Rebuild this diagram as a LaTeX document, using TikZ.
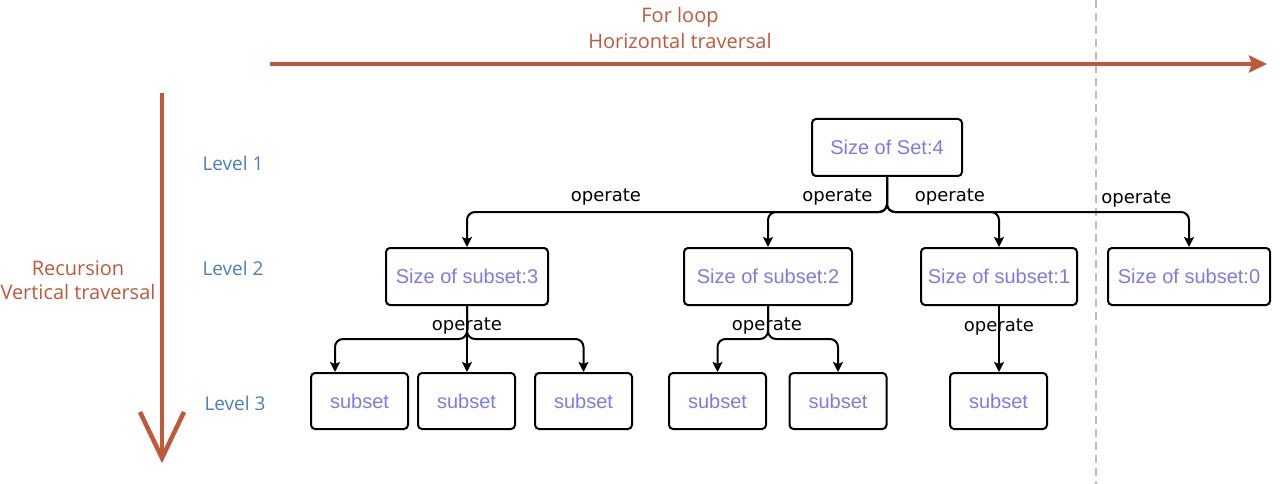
\documentclass[tikz,border=0pt]{standalone}
\usepackage{fontspec}
\setmainfont{Liberation Sans}
\newfontfamily\osans{Open Sans}
\newfontfamily\dvs{DejaVu Sans}
\usetikzlibrary{arrows.meta}
\definecolor{brick}{HTML}{C0583A}
\definecolor{lvlblue}{HTML}{4A7EC0}
\definecolor{boxtxt}{HTML}{7B7BE8}
\definecolor{dashgray}{HTML}{BDBDBD}
\tikzset{
  box/.style={draw, line width=2pt, rounded corners=4pt, minimum height=57pt,
    inner sep=0pt, text=boxtxt, font=\fontsize{20}{24}\selectfont},
  leaf/.style={box, minimum width=97pt, minimum height=56pt},
  conn/.style={draw, line width=2pt, rounded corners=8pt,
    -{Stealth[length=10pt,width=10pt,inset=2pt]}},
  oplabel/.style={font=\dvs\fontsize{18}{22}\selectfont, inner sep=0pt},
  lvl/.style={font=\osans\fontsize{19}{23}\selectfont, text=lvlblue, inner sep=0pt},
  title/.style={font=\osans\fontsize{20}{24}\selectfont, text=brick, inner sep=0pt}
}
\begin{document}
\begin{tikzpicture}[x=1pt,y=-1pt]
\useasboundingbox (0,0) rectangle (1280,484);

% dashed separator
\coordinate (dtop) at (1096,0);
\coordinate (dbot) at (1096,484);
\draw[dashgray, line width=2pt, dash pattern=on 8pt off 5pt] (dtop) -- (dbot);

% horizontal traversal arrow
\node[title] (t1) at (680,17) {For loop};
\node[title] (t2) at (680,41) {Horizontal traversal};
\coordinate (hs) at (270,64);
\coordinate (he) at (1267,64);
\draw[brick, line width=4pt, -{Stealth[length=18pt,width=17pt,inset=3pt]}] (hs) -- (he);

% vertical traversal arrow
\node[title] (r1) at (78,268) {Recursion};
\node[title] (r2) at (78,292) {Vertical traversal};
\coordinate (vs) at (162,93);
\coordinate (ve) at (162,458);
\coordinate (va) at (140,412);
\coordinate (vb) at (184,412);
\draw[brick, line width=4.5pt] (vs) -- (ve);
\draw[brick, line width=4.5pt, line join=miter] (va) -- (ve) -- (vb);

% level labels
\node[lvl] (lv1) at (233,163) {Level 1};
\node[lvl] (lv2) at (233,268) {Level 2};
\node[lvl] (lv3) at (235,403) {Level 3};

% boxes
\node[box, minimum width=150pt] (top) at (887,147.5) {Size of Set:4};
\node[box, minimum width=162pt] (a) at (467,276.5) {Size of subset:3};
\node[box, minimum width=168pt] (b) at (768,276.5) {Size of subset:2};
\node[box, minimum width=156pt] (c) at (999,276.5) {Size of subset:1};
\node[box, minimum width=162pt] (d) at (1189,276.5) {Size of subset:0};

\node[leaf] (a1) at (359.5,401) {subset};
\node[leaf] (a2) at (466.5,401) {subset};
\node[leaf] (a3) at (583.5,401) {subset};
\node[leaf] (b1) at (717.5,401) {subset};
\node[leaf] (b2) at (838,401) {subset};
\node[leaf] (c1) at (998.5,401) {subset};

% connectors level 1 -> 2
\coordinate (j0) at (887,212);
\draw[conn] (top.south) -- (j0) -| (a.north);
\draw[conn] (top.south) -- (j0) -| (b.north);
\draw[conn] (top.south) -- (j0) -| (c.north);
\draw[conn] (top.south) -- (j0) -| (d.north);

% connectors level 2 -> 3
\coordinate (ja) at (467,339);
\draw[conn] (a.south) -- (ja) -| ([xshift=-24.5pt]a1.north);
\draw[conn] (a.south) -- (a.south |- a2.north);
\draw[conn] (a.south) -- (ja) -| (a3.north);
\coordinate (jb) at (768,339);
\draw[conn] (b.south) -- (jb) -| (b1.north);
\draw[conn] (b.south) -- (jb) -| (b2.north);
\draw[conn] (c.south) -- (c.south |- c1.north);

% operate labels
\node[oplabel] (o1) at (606,197) {operate};
\node[oplabel] (o2) at (837.5,197) {operate};
\node[oplabel] (o3) at (950,197) {operate};
\node[oplabel] (o4) at (1136.5,199) {operate};
\node[oplabel] (o5) at (467,326) {operate};
\node[oplabel] (o6) at (767,326) {operate};
\node[oplabel] (o7) at (999,327) {operate};
\end{tikzpicture}
\end{document}
